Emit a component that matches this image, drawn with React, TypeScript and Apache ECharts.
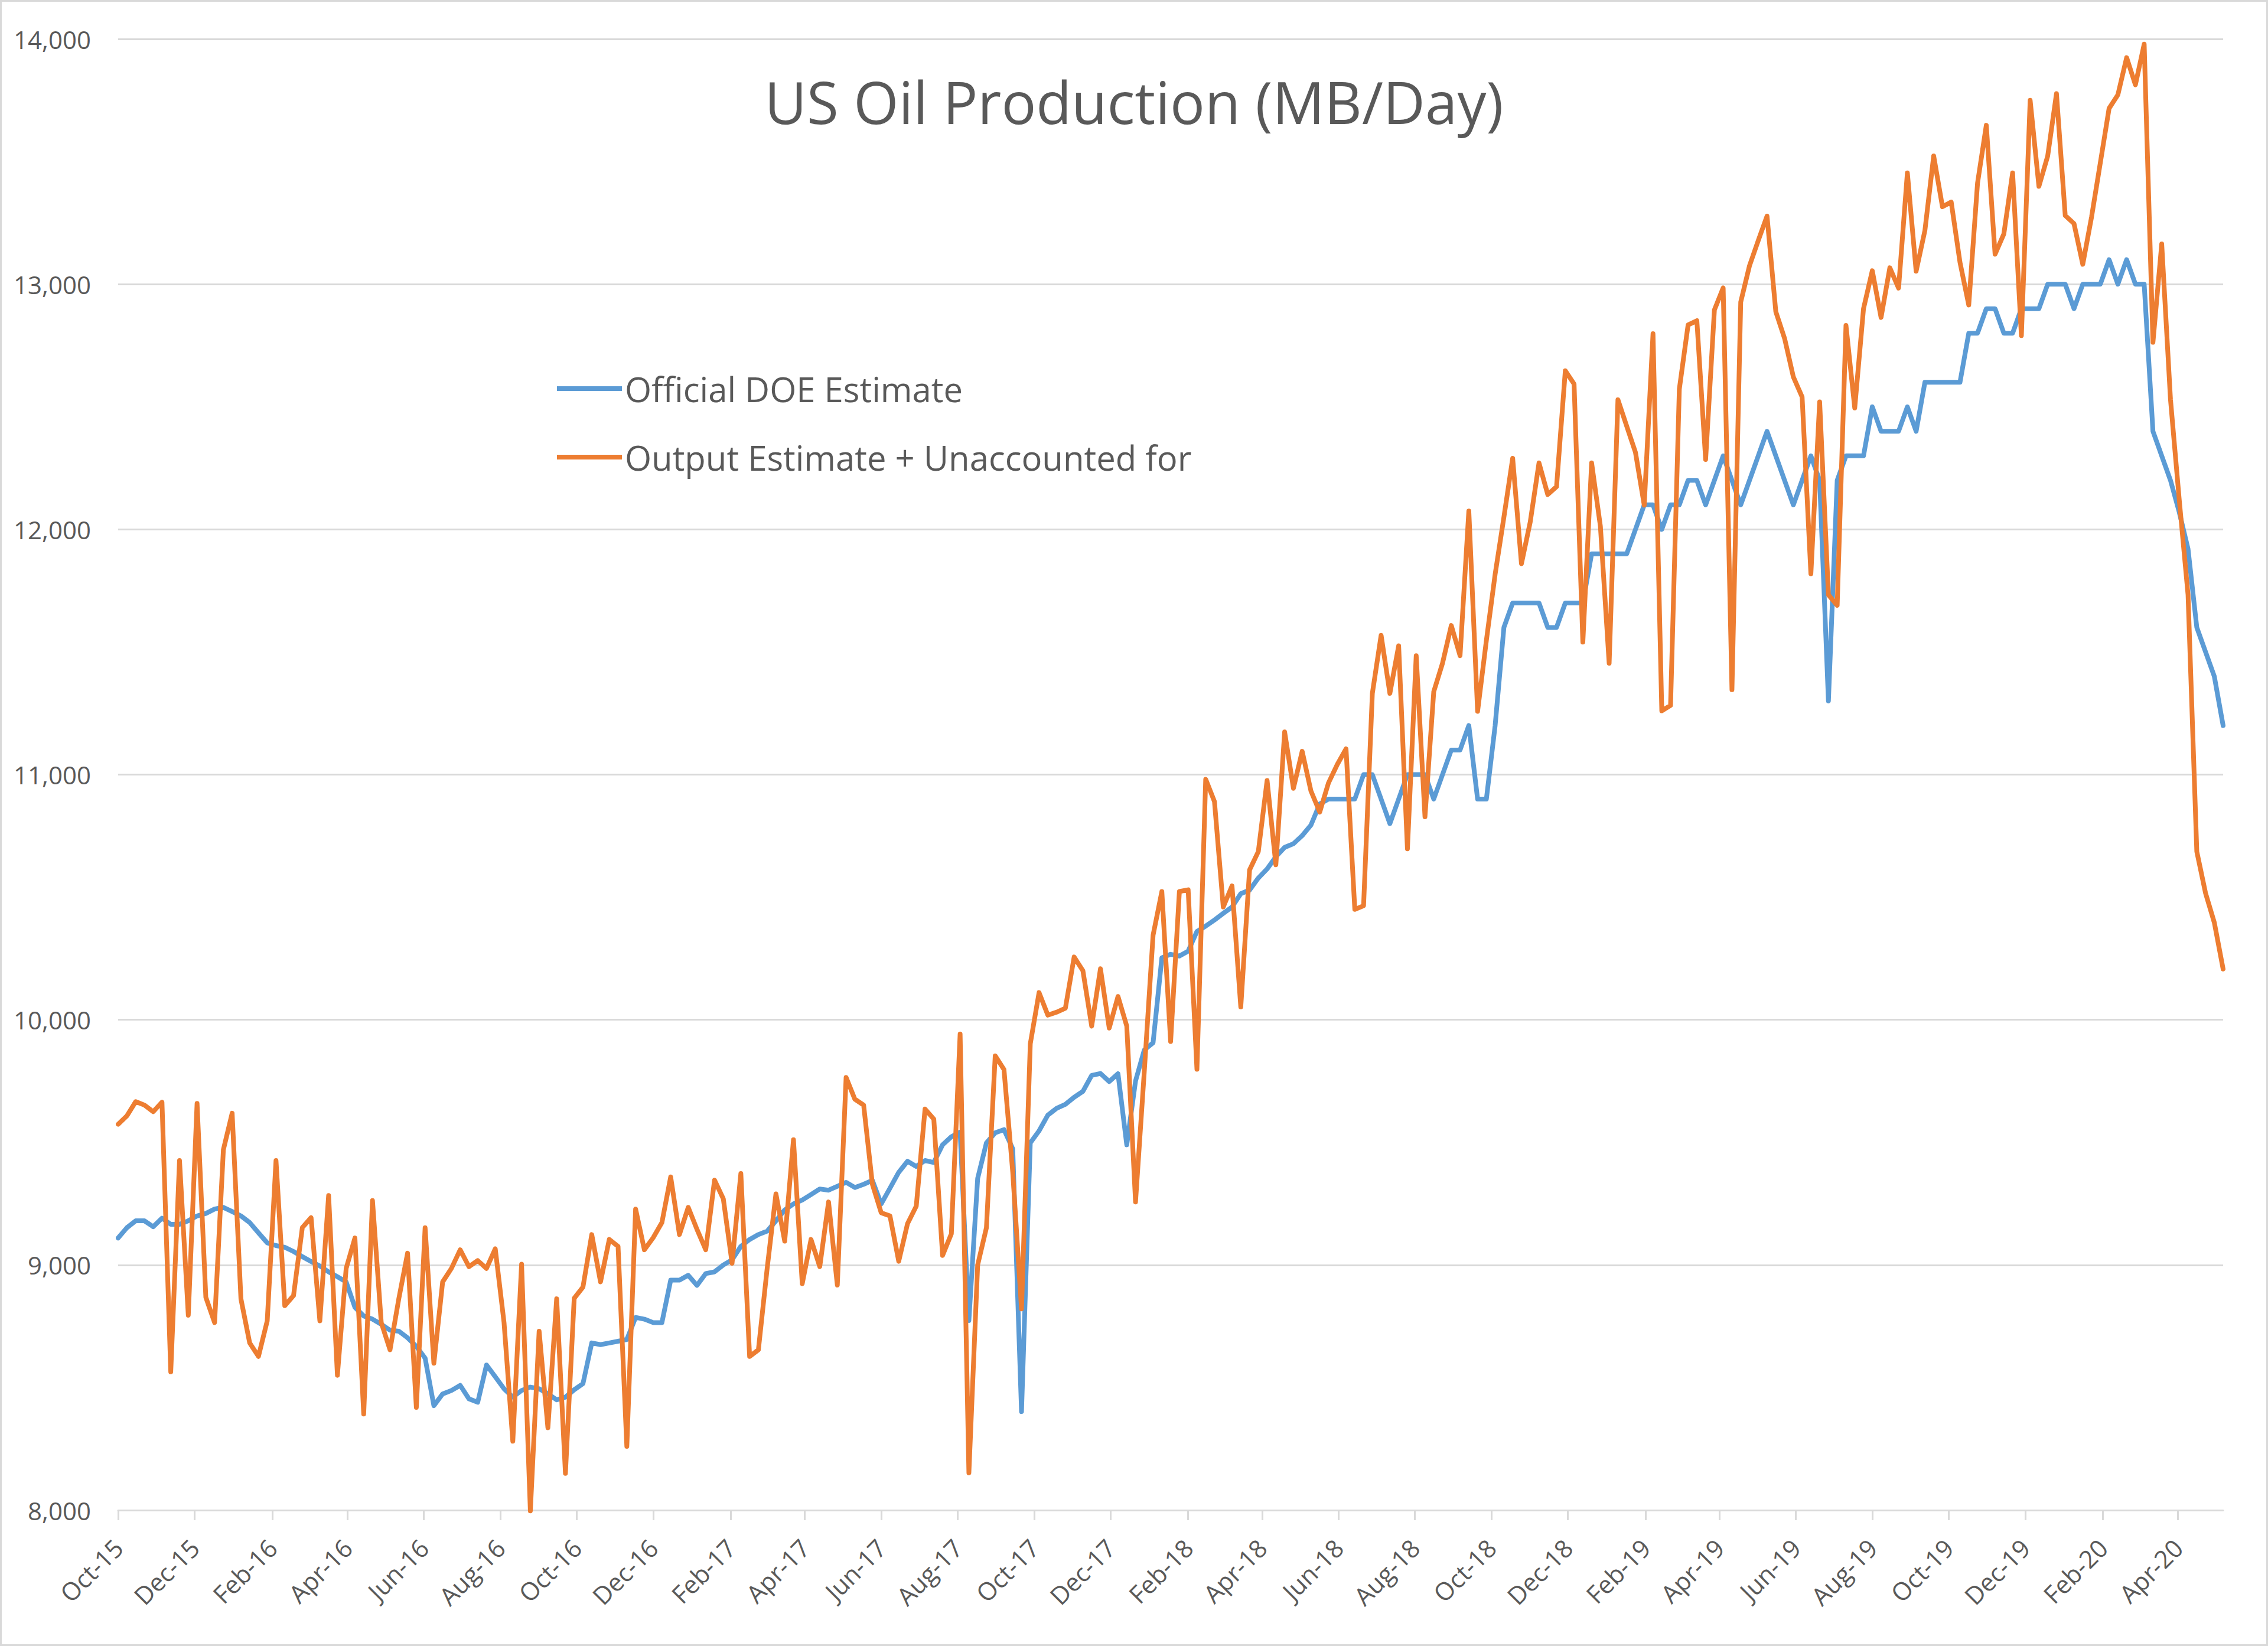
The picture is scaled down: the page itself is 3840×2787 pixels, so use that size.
import React, { useEffect, useRef } from "react";
import * as echarts from "echarts";

// ---------- data ----------
const chartTitle = "US Oil Production (MB/Day)";
const seriesNames = ["Official DOE Estimate", "Output Estimate + Unaccounted for"];
const firstWeek = "2015-10-02"; // weekly observations from here on

const officialDOE: number[] = [
  9110, 9152, 9180, 9180, 9156, 9191, 9166, 9166, 9180, 9200,
  9210, 9228, 9235, 9218, 9200, 9173, 9131, 9090, 9079, 9072,
  9055, 9034, 9014, 8996, 8972, 8952, 8931, 8827, 8792, 8779,
  8758, 8734, 8730, 8703, 8668, 8620, 8426, 8474, 8488, 8509,
  8454, 8440, 8592, 8544, 8495, 8461, 8488, 8502, 8495, 8475,
  8450, 8461, 8491, 8516, 8682, 8675, 8682, 8689, 8696, 8786,
  8779, 8765, 8765, 8938, 8938, 8958, 8917, 8965, 8972, 9000,
  9021, 9076, 9104, 9124, 9138, 9180, 9224, 9249, 9265, 9287,
  9310, 9305, 9321, 9337, 9316, 9329, 9345, 9249, 9313, 9378,
  9423, 9402, 9426, 9418, 9490, 9523, 9542, 8773, 9353, 9498,
  9539, 9552, 9474, 8402, 9498, 9547, 9611, 9639, 9655, 9684,
  9708, 9773, 9781, 9748, 9780, 9490, 9750, 9877, 9906, 10253,
  10267, 10260, 10280, 10360, 10382, 10407, 10434, 10460, 10514, 10529,
  10578, 10615, 10665, 10703, 10718, 10751, 10794, 10880, 10900, 10900,
  10900, 10900, 11000, 11000, 10900, 10800, 10900, 11000, 11000, 11000,
  10900, 11000, 11100, 11100, 11200, 10900, 10900, 11200, 11600, 11700,
  11700, 11700, 11700, 11600, 11600, 11700, 11700, 11700, 11900, 11900,
  11900, 11900, 11900, 12000, 12100, 12100, 12000, 12100, 12100, 12200,
  12200, 12100, 12200, 12300, 12200, 12100, 12200, 12300, 12400, 12300,
  12200, 12100, 12200, 12300, 12200, 11300, 12200, 12300, 12300, 12300,
  12500, 12400, 12400, 12400, 12500, 12400, 12600, 12600, 12600, 12600,
  12600, 12800, 12800, 12900, 12900, 12800, 12800, 12900, 12900, 12900,
  13000, 13000, 13000, 12900, 13000, 13000, 13000, 13100, 13000, 13100,
  13000, 13000, 12400, 12300, 12200, 12070, 11920, 11600, 11500, 11400,
  11200,
];

const outputPlusUnaccounted: number[] = [
  9574, 9608, 9666, 9652, 9625, 9664, 8564, 9426, 8795, 9659,
  8868, 8765, 9470, 9619, 8862, 8682, 8627, 8772, 9426, 8834,
  8875, 9152, 9193, 8772, 9283, 8550, 8986, 9110, 8392, 9263,
  8765, 8654, 8862, 9048, 8419, 9152, 8599, 8931, 8986, 9062,
  8993, 9018, 8986, 9066, 8765, 8281, 9003, 7997, 8730, 8336,
  8862, 8150, 8864, 8910, 9124, 8931, 9104, 9076, 8260, 9228,
  9062, 9111, 9173, 9359, 9124, 9235, 9145, 9062, 9346, 9270,
  9007, 9373, 8627, 8654, 8986, 9290, 9097, 9511, 8924, 9104,
  8993, 9257, 8918, 9765, 9676, 9652, 9329, 9213, 9200, 9015,
  9168, 9240, 9636, 9595, 9039, 9127, 9942, 8152, 9000, 9152,
  9853, 9797, 9378, 8821, 9902, 10111, 10019, 10031, 10047, 10256,
  10200, 9974, 10208, 9966, 10095, 9974, 9257, 9790, 10345, 10523,
  9911, 10523, 10530, 9798, 10981, 10890, 10460, 10546, 10052, 10611,
  10686, 10976, 10632, 11174, 10944, 11095, 10933, 10847, 10966, 11041,
  11105, 10450, 10465, 11331, 11568, 11331, 11525, 10697, 11485, 10828,
  11338, 11454, 11608, 11485, 12075, 11258, 11547, 11817, 12050, 12290,
  11860, 12030, 12271, 12142, 12174, 12647, 12593, 11540, 12271, 12013,
  11454, 12529, 12421, 12314, 12099, 12798, 11260, 11282, 12572, 12834,
  12851, 12285, 12895, 12985, 11346, 12927, 13075, 13178, 13278, 12888,
  12779, 12622, 12540, 11819, 12520, 11733, 11690, 12832, 12495, 12900,
  13055, 12864, 13067, 12984, 13454, 13053, 13219, 13523, 13316, 13335,
  13089, 12915, 13412, 13648, 13122, 13205, 13454, 12790, 13750, 13399,
  13523, 13777, 13280, 13247, 13081, 13274, 13495, 13717, 13772, 13924,
  13813, 13979, 12763, 13164, 12530, 12120, 11734, 10686, 10516, 10396,
  10207,
];

const xTickLabels = [
  "Oct-15", "Dec-15", "Feb-16", "Apr-16", "Jun-16", "Aug-16", "Oct-16",
  "Dec-16", "Feb-17", "Apr-17", "Jun-17", "Aug-17", "Oct-17", "Dec-17",
  "Feb-18", "Apr-18", "Jun-18", "Aug-18", "Oct-18", "Dec-18", "Feb-19",
  "Apr-19", "Jun-19", "Aug-19", "Oct-19", "Dec-19", "Feb-20", "Apr-20",
];

const yMin = 8000;
const yMax = 14000;
const yStep = 1000;

// ---------- derived ----------
const MONTHS = ["Jan", "Feb", "Mar", "Apr", "May", "Jun", "Jul", "Aug", "Sep", "Oct", "Nov", "Dec"];
const DAY = 86400000;
const startMs = Date.parse(firstWeek + "T00:00:00Z");
// x position = days since first weekly observation
const weekDays = officialDOE.map((_, i) => i * 7);
const tickDays = xTickLabels.map((l) => {
  const [m, y] = l.split("-");
  return Math.round((Date.UTC(2000 + Number(y), MONTHS.indexOf(m), 2) - startMs) / DAY);
});

const FONT = "'Open Sans', 'Noto Sans', sans-serif";
const TEXT = "#595959";
const GRID = "#D9D9D9";
const BLUE = "#5B9BD5";
const ORANGE = "#ED7D31";

function labelFor(v: number): string {
  let best = 0;
  let bestD = Infinity;
  tickDays.forEach((t, i) => {
    const d = Math.abs(t - v);
    if (d < bestD) {
      bestD = d;
      best = i;
    }
  });
  return bestD < 3 ? xTickLabels[best] : "";
}

export default function App() {
  const ref = useRef<HTMLDivElement>(null);

  useEffect(() => {
    if (!ref.current) return;
    const chart = echarts.init(ref.current, null, { renderer: "svg" });
    const option: any = {
      animation: false,
      backgroundColor: "#ffffff",
      title: {
        text: chartTitle,
        left: "center",
        top: 118,
        textStyle: { fontFamily: FONT, fontSize: 98, fontWeight: "normal", color: TEXT },
      },
      legend: {
        orient: "vertical",
        left: 938,
        top: 624,
        icon: "rect",
        itemWidth: 110,
        itemHeight: 8,
        itemGap: 58,
        data: seriesNames,
        textStyle: { fontFamily: FONT, fontSize: 58, color: TEXT },
      },
      grid: {
        left: 200,
        right: 76,
        top: 66,
        bottom: 230,
        containLabel: false,
        outerBoundsMode: "none",
      },
      xAxis: {
        type: "value",
        min: weekDays[0],
        max: weekDays[weekDays.length - 1],
        axisLine: { show: true, onZero: false, lineStyle: { color: GRID, width: 3 } },
        axisTick: {
          show: true,
          customValues: tickDays,
          length: 17,
          lineStyle: { color: GRID, width: 3 },
        },
        axisLabel: {
          customValues: tickDays,
          rotate: 45,
          margin: 56,
          fontFamily: FONT,
          fontSize: 42,
          color: TEXT,
          formatter: (v: number) => labelFor(v),
        },
        splitLine: { show: false },
      },
      yAxis: {
        type: "value",
        min: yMin,
        max: yMax,
        interval: yStep,
        axisLine: { show: false },
        axisTick: { show: false },
        axisLabel: {
          margin: 46,
          fontFamily: FONT,
          fontSize: 42,
          color: TEXT,
          formatter: (v: number) => v.toLocaleString("en-US"),
        },
        splitLine: { show: true, lineStyle: { color: GRID, width: 3 } },
      },
      series: [
        {
          name: seriesNames[0],
          type: "line",
          symbol: "none",
          clip: false,
          color: BLUE,
          lineStyle: { width: 8, color: BLUE, cap: "round", join: "round" },
          data: weekDays.map((d, i) => [d, officialDOE[i]]),
        },
        {
          name: seriesNames[1],
          type: "line",
          symbol: "none",
          clip: false,
          color: ORANGE,
          lineStyle: { width: 8, color: ORANGE, cap: "round", join: "round" },
          data: weekDays.map((d, i) => [d, outputPlusUnaccounted[i]]),
        },
      ],
      graphic: [
        {
          type: "rect",
          silent: true,
          shape: { x: 1.5, y: 1.5, width: 3837, height: 2784 },
          style: { fill: "none", stroke: GRID, lineWidth: 3 },
        },
      ],
    };
    chart.setOption(option);
    return () => chart.dispose();
  }, []);

  return (
    <div
      ref={ref}
      style={{ position: "absolute", left: 0, top: 0, width: 3840, height: 2787 }}
    />
  );
}
